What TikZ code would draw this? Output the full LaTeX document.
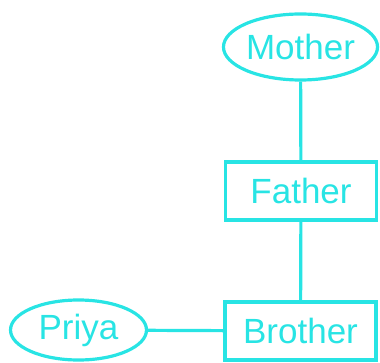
\documentclass[tikz,border=0pt]{standalone}
\usepackage{fontspec}
\setmainfont{Liberation Sans}
\usetikzlibrary{shapes,positioning}
\definecolor{aqua}{RGB}{40,228,228}

\begin{document}
\begin{tikzpicture}[x=1pt, y=1pt, every node/.style={draw=aqua, line width=3.2pt, text=aqua, font=\fontsize{35}{37}\selectfont}, person/.style={ellipse, minimum width=152pt, minimum height=66pt, inner sep=0pt}, member/.style={rectangle, minimum width=151pt, minimum height=58pt, inner sep=0pt}]
                \useasboundingbox (0,0) rectangle (380,362);
                \node[person] (mother) at (300.5,315) {Mother};
                \node[member] (father) at (301,171) {Father};
                \node[member] (brother) at (300.5,31) {Brother};
                \node[person, minimum width=136pt, minimum height=60pt] (priya) at (78.5,32) {Priya};
                \draw[aqua, line width=3.2pt] (mother) -- (father) -- (brother);
                \draw[aqua, line width=3.2pt] (priya) -- (brother);
            \end{tikzpicture}
\end{document}
